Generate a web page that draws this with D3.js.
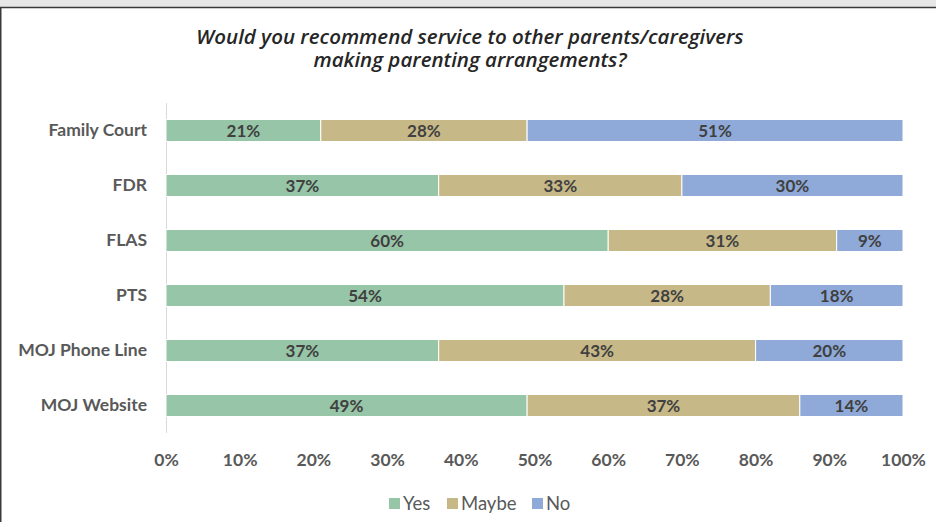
<!DOCTYPE html>
<html>
<head>
<meta charset="utf-8">
<script src="https://cdn.jsdelivr.net/npm/d3@7"></script>
<style>
  body { margin: 0; background: #fff; }
  svg { display: block; }
</style>
</head>
<body>
<svg id="chart" width="936" height="522"></svg>
<script>
const categories = ['Family Court', 'FDR', 'FLAS', 'PTS', 'MOJ Phone Line', 'MOJ Website'];
const seriesNames = ['Yes', 'Maybe', 'No'];
const yesValues = [21, 37, 60, 54, 37, 49];
const maybeValues = [28, 33, 31, 28, 43, 37];
const noValues = [51, 30, 9, 18, 20, 14];
const tickValues = [0, 10, 20, 30, 40, 50, 60, 70, 80, 90, 100];
const colours = ['#97c5a7', '#c7b888', '#8faad8'];

const svg = d3.select('#chart');

// frame bits
svg.append('rect').attr('x', 0).attr('y', 0).attr('width', 936).attr('height', 7).attr('fill', '#e7e7e7');
svg.append('line').attr('x1', 0).attr('x2', 936).attr('y1', 7.5).attr('y2', 7.5).attr('stroke', '#3a3a3a').attr('stroke-width', 1.5);
svg.append('line').attr('x1', 0.75).attr('x2', 0.75).attr('y1', 7).attr('y2', 522).attr('stroke', '#3a3a3a').attr('stroke-width', 1.5);

// title
const titleLines = ['Would you recommend service to other parents/caregivers', 'making parenting arrangements?'];
titleLines.forEach((t, i) => {
  svg.append('text')
    .attr('x', 470).attr('y', 44 + i * 23)
    .attr('text-anchor', 'middle')
    .attr('font-family', 'Open Sans, sans-serif')
    .attr('font-style', 'italic')
    .attr('font-weight', 600)
    .attr('font-size', 20.5)
    .attr('fill', '#262626')
    .text(t);
});

const x = d3.scaleLinear().domain([0, 100]).range([166, 903]);
const y = d3.scaleBand().domain(categories).range([103, 433]).paddingInner(0.6).paddingOuter(0.3);

const rows = categories.map((c, i) => ({ cat: c, Yes: yesValues[i], Maybe: maybeValues[i], No: noValues[i] }));
const stack = d3.stack().keys(seriesNames)(rows);

const font = 'Lato, Open Sans, sans-serif';

// axis line
svg.append('line')
  .attr('x1', x(0) + 0.5).attr('x2', x(0) + 0.5)
  .attr('y1', 103).attr('y2', 433)
  .attr('stroke', '#d9d9d9');

const layers = svg.selectAll('g.layer').data(stack).join('g')
  .attr('class', 'layer')
  .attr('fill', (d, i) => colours[i]);

layers.selectAll('rect').data(d => d).join('rect')
  .attr('x', d => x(d[0]))
  .attr('y', d => y(d.data.cat))
  .attr('width', d => x(d[1]) - x(d[0]))
  .attr('height', y.bandwidth())
  .attr('stroke', '#fff')
  .attr('stroke-width', 1);

layers.selectAll('text').data(d => d).join('text')
  .attr('x', d => (x(d[0]) + x(d[1])) / 2)
  .attr('y', d => y(d.data.cat) + y.bandwidth() / 2)
  .attr('dy', '0.36em')
  .attr('text-anchor', 'middle')
  .attr('font-family', font)
  .attr('font-weight', 'bold')
  .attr('font-size', 17)
  .attr('fill', '#404040')
  .text(d => (d[1] - d[0]) + '%');

// category labels
const yAxis = svg.append('g')
  .attr('transform', `translate(${x(0)},0)`)
  .call(d3.axisLeft(y).tickSize(0).tickPadding(19));
yAxis.select('.domain').remove();
yAxis.selectAll('text')
  .attr('font-family', font)
  .attr('font-weight', 'bold')
  .attr('font-size', 17.5)
  .attr('fill', '#595959');

// x tick labels
const xAxis = svg.append('g')
  .attr('transform', 'translate(0,451)')
  .call(d3.axisBottom(x).tickValues(tickValues).tickSize(0).tickFormat(d => d + '%'));
xAxis.select('.domain').remove();
xAxis.selectAll('text')
  .attr('font-family', font)
  .attr('font-weight', 'bold')
  .attr('font-size', 17.5)
  .attr('fill', '#595959');

// legend
const legendX = [389, 447, 532];
const legend = svg.append('g');
seriesNames.forEach((s, i) => {
  legend.append('rect')
    .attr('x', legendX[i]).attr('y', 498)
    .attr('width', 11).attr('height', 11)
    .attr('fill', colours[i]);
  legend.append('text')
    .attr('x', legendX[i] + 14).attr('y', 503)
    .attr('dy', '0.36em')
    .attr('font-family', font)
    .attr('font-size', 18.5)
    .attr('fill', '#595959')
    .text(s);
});
</script>
</body>
</html>
